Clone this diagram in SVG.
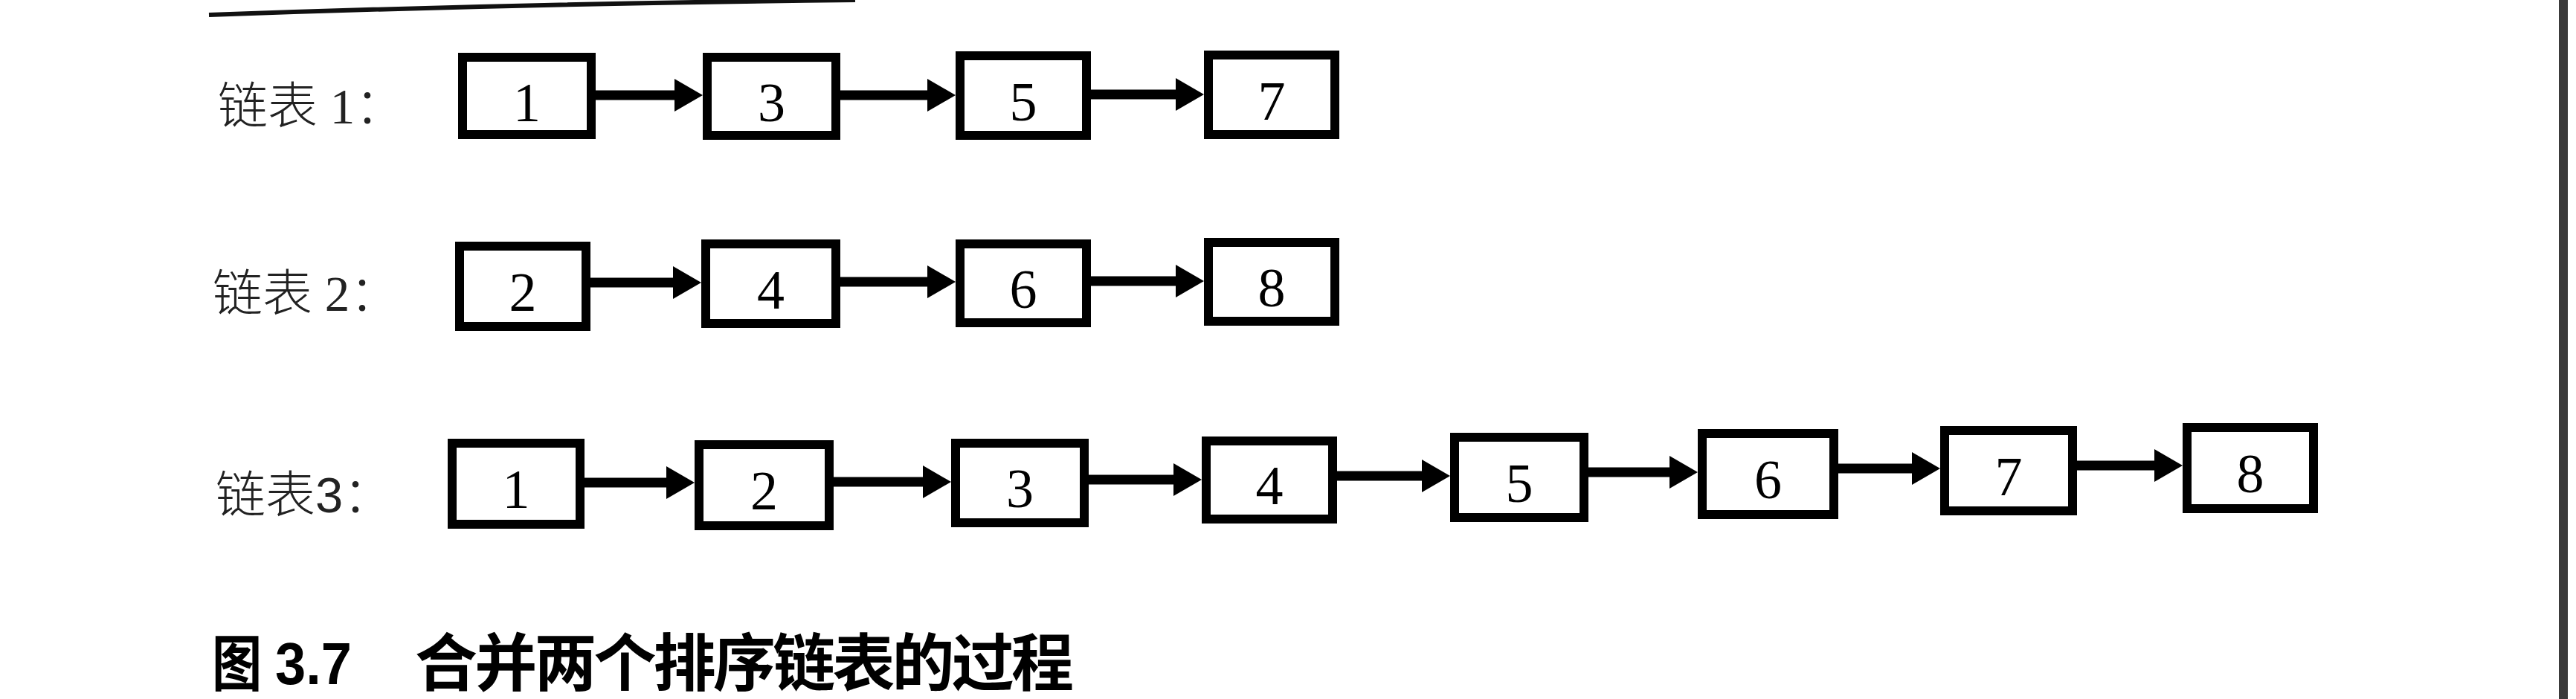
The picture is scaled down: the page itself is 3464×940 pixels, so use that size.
<svg xmlns="http://www.w3.org/2000/svg" width="3464" height="940" viewBox="0 0 3464 940">
<style>
.box{fill:#fff;stroke:#000;stroke-width:12}
.num{font-family:"Liberation Serif",serif;font-size:74px;text-anchor:middle;fill:#000}
.lbl{font-family:"Liberation Serif","Noto Sans CJK SC",serif;font-size:67px;font-weight:300;fill:#222}
.edge{stroke:#000;stroke-width:13;fill:none;marker-end:url(#ah)}
.cap{font-family:"Noto Sans CJK SC",sans-serif;font-weight:700;fill:#000}
</style>
<defs>
<marker id="ah" markerUnits="userSpaceOnUse" markerWidth="40" markerHeight="44" refX="8" refY="22" orient="auto" viewBox="0 0 38 44"><path d="M0,0 L38,22 L0,44 Z" fill="#000"/></marker>
</defs>
<rect width="3464" height="940" fill="#fff"/>
<g id="frame">
<path d="M281,20 Q700,5 1150,0" fill="none" stroke="#111" stroke-width="6"/>
<rect x="3441" y="0" width="12" height="940" fill="#3a3a3a"/>
</g>
<g id="labels">
<text class="lbl" x="293" y="166">链表 1：</text>
<text class="lbl" x="286" y="418">链表 2：</text>
<text class="lbl" x="290" y="689" fill="#666">链表<tspan font-family="Liberation Sans" font-weight="400" fill="#222">3</tspan><tspan fill="#222">：</tspan></text>
</g>
<g id="list1">
<g id="l1n1"><rect class="box" x="622" y="77" width="173" height="104"/><text class="num" x="708.5" y="163">1</text></g>
<g id="l1n3"><rect class="box" x="951" y="77" width="173" height="105"/><text class="num" x="1037.5" y="163">3</text></g>
<g id="l1n5"><rect class="box" x="1291" y="75" width="170" height="107"/><text class="num" x="1376" y="162">5</text></g>
<g id="l1n7"><rect class="box" x="1625" y="74" width="170" height="107"/><text class="num" x="1710" y="161">7</text></g>
</g>
<g id="list2">
<g id="l2n2"><rect class="box" x="618" y="331" width="170" height="108"/><text class="num" x="703" y="418">2</text></g>
<g id="l2n4"><rect class="box" x="949" y="328" width="175" height="107"/><text class="num" x="1036.5" y="415">4</text></g>
<g id="l2n6"><rect class="box" x="1291" y="328" width="170" height="106"/><text class="num" x="1376" y="414">6</text></g>
<g id="l2n8"><rect class="box" x="1625" y="326" width="170" height="106"/><text class="num" x="1710" y="412">8</text></g>
</g>
<g id="list3">
<g id="l3n1"><rect class="box" x="608" y="596" width="172" height="109"/><text class="num" x="694" y="683">1</text></g>
<g id="l3n2"><rect class="box" x="940" y="598" width="175" height="109"/><text class="num" x="1027.5" y="685">2</text></g>
<g id="l3n3"><rect class="box" x="1285" y="596" width="173" height="107"/><text class="num" x="1371.5" y="682">3</text></g>
<g id="l3n4"><rect class="box" x="1622" y="593" width="170" height="105"/><text class="num" x="1707" y="678">4</text></g>
<g id="l3n5"><rect class="box" x="1956" y="588" width="174" height="108"/><text class="num" x="2043" y="675">5</text></g>
<g id="l3n6"><rect class="box" x="2289" y="583" width="177" height="109"/><text class="num" x="2377.5" y="670">6</text></g>
<g id="l3n7"><rect class="box" x="2615" y="579" width="172" height="108"/><text class="num" x="2701" y="666">7</text></g>
<g id="l3n8"><rect class="box" x="2941" y="575" width="170" height="109"/><text class="num" x="3026" y="662">8</text></g>
</g>
<g id="connectors">
<line class="edge" x1="801" y1="128" x2="915" y2="128"/>
<line class="edge" x1="1130" y1="128" x2="1255" y2="128"/>
<line class="edge" x1="1467" y1="127" x2="1589" y2="127"/>
<line class="edge" x1="794" y1="380" x2="913" y2="380"/>
<line class="edge" x1="1130" y1="379" x2="1255" y2="379"/>
<line class="edge" x1="1467" y1="378" x2="1589" y2="378"/>
<line class="edge" x1="786" y1="649" x2="904" y2="649"/>
<line class="edge" x1="1121" y1="648" x2="1249" y2="648"/>
<line class="edge" x1="1464" y1="645" x2="1586" y2="645"/>
<line class="edge" x1="1798" y1="640" x2="1920" y2="640"/>
<line class="edge" x1="2136" y1="635" x2="2253" y2="635"/>
<line class="edge" x1="2472" y1="630" x2="2579" y2="630"/>
<line class="edge" x1="2793" y1="626" x2="2905" y2="626"/>
</g>
<g id="caption">
<text class="cap" transform="translate(285,922) scale(0.82,1)" font-size="82">图</text>
<text x="370" y="920" font-family="Liberation Sans" font-weight="700" font-size="80" textLength="103" lengthAdjust="spacingAndGlyphs">3.7</text>
<text class="cap" x="558" y="922" font-size="84" textLength="886" lengthAdjust="spacing">合并两个排序链表的过程</text>
</g>
</svg>
